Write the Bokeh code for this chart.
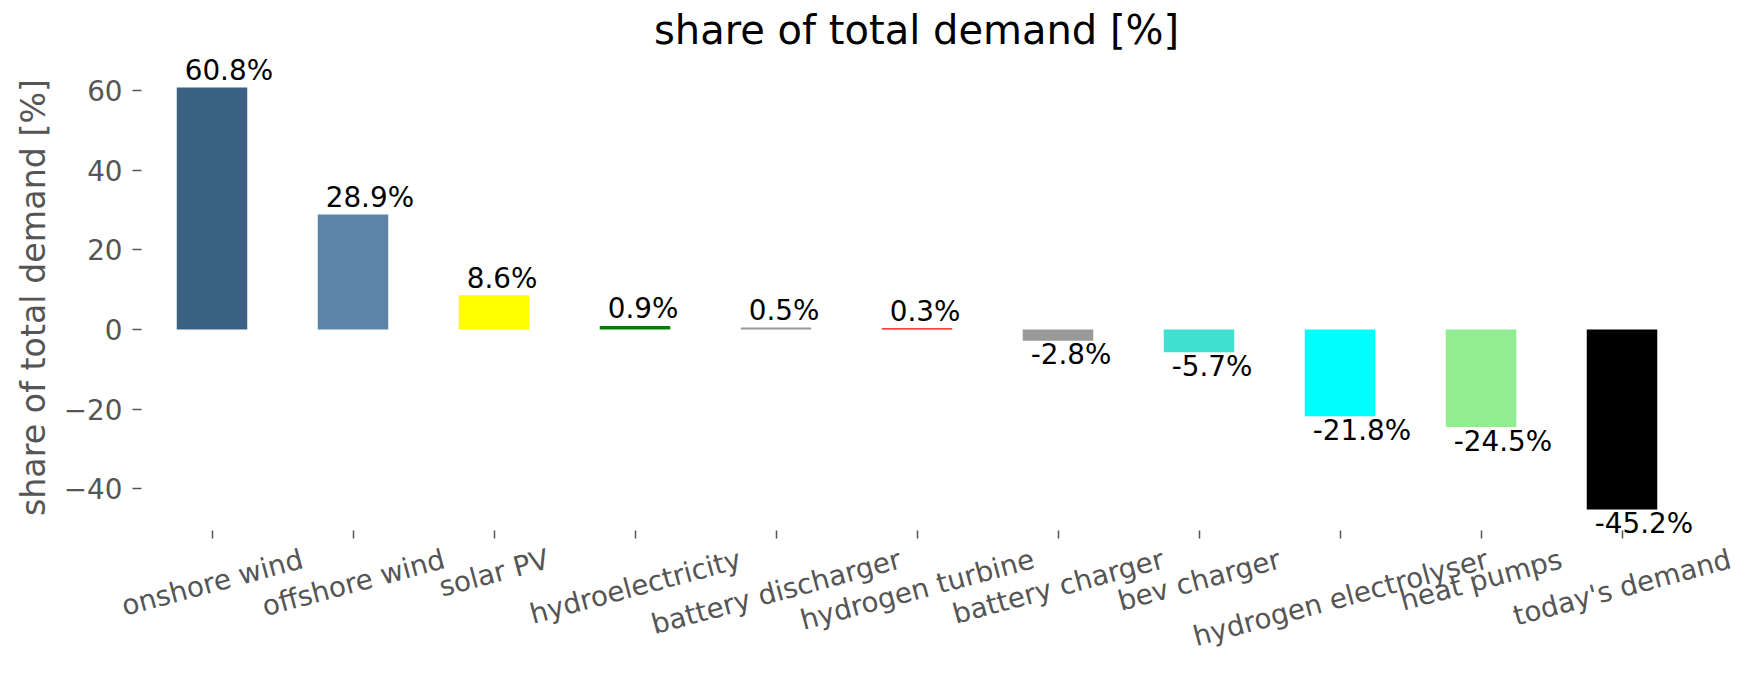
import math
from bokeh.plotting import figure
from bokeh.models import (ColumnDataSource, Label, Range1d, FixedTicker, LinearAxis)
from bokeh.embed import file_html
from bokeh.resources import INLINE

# ---- data ----
categories = ["onshore wind", "offshore wind", "solar PV", "hydroelectricity",
              "battery discharger", "hydrogen turbine", "battery charger",
              "bev charger", "hydrogen electrolyser", "heat pumps", "today's demand"]
shares = [60.8, 28.9, 8.6, 0.9, 0.5, 0.3, -2.8, -5.7, -21.8, -24.5, -45.2]
y_ticks = [-40, -20, 0, 20, 40, 60]
title_text = "share of total demand [%]"
ylabel_text = "share of total demand [%]"

# ---- styles ----
bar_colors = ["#3B6182", "#5B84A6", "#FFFF00", "#008000", "#999999", "#FF0000",
              "#999999", "#40E0D0", "#00FFFF", "#90EE90", "#000000"]
FONT = "DejaVu Sans"
GREY = "#555555"
TICK_FS = 27.8
ANN_FS = 27.8
TITLE_FS = 40
BAR_W = 0.5
AX_W, AX_H = 1551, 464          # matplotlib-like axes box
EXT_TOP, EXT_BOT, EXT_RIGHT = 10, 8, 45   # invisible frame extension (avoid clipping)
TICK_LEN = 8

lo, hi = min(shares), max(shares)
pad = 0.05 * (hi - lo)
n = len(categories)
centers = [i + 0.5 for i in range(n)]   # category slots on the x scale

px_x = AX_W / n
px_y = AX_H / ((hi + pad) - (lo - pad))

p = figure(x_range=Range1d(0, n + EXT_RIGHT / px_x),
           y_range=Range1d(lo - pad - EXT_BOT / px_y, hi + pad + EXT_TOP / px_y),
           frame_width=AX_W + EXT_RIGHT, frame_height=AX_H + EXT_TOP + EXT_BOT,
           min_border_left=141, min_border_right=10,
           min_border_top=66 - EXT_TOP, min_border_bottom=136 - EXT_BOT,
           output_backend="svg", toolbar_location=None,
           title=title_text)

src = ColumnDataSource(dict(x=centers, val=shares, color=bar_colors))
p.vbar(x="x", top="val", bottom=0, width=BAR_W, source=src,
       fill_color="color", line_color=None)

# value labels (start at the bar's left edge, above / below the bar end)
for xc, v in zip(centers, shares):
    p.add_layout(Label(x=xc - BAR_W / 2, y=v, text=f"{v}%",
                       x_offset=8, y_offset=(17 if v >= 0 else -14),
                       text_align="left", text_baseline="alphabetic",
                       text_font=FONT, text_font_size=f"{ANN_FS}px",
                       text_color="black"))

# ---- category labels: rotated 15 deg and centred under each tick ----
# Bokeh anchors rotated axis labels at their right end, so each label's anchor
# is moved right by half of its rotated width (DejaVu Sans advance widths).
W = {" ": 651, "'": 563, "P": 1235, "V": 1401, "a": 1255, "b": 1300, "c": 1126,
     "d": 1300, "e": 1260, "f": 721, "g": 1300, "h": 1298, "i": 569, "l": 569,
     "m": 1995, "n": 1298, "o": 1253, "p": 1300, "r": 842, "s": 1067, "t": 803,
     "u": 1298, "v": 1212, "w": 1675, "y": 1212, "k": 1186, "x": 1212,
     "[": 799, "]": 799, "%": 1946}
ang = math.radians(15)
label_ticks, label_over = [], {}
for xc, c in zip(centers, categories):
    L = sum(W.get(ch, 1250) for ch in c) / 2048 * TICK_FS
    t = round(xc + (L / 2) * math.cos(ang) / px_x, 6)
    label_ticks.append(t)
    label_over[t] = c

lab_axis = LinearAxis(ticker=FixedTicker(ticks=label_ticks),
                      major_label_overrides=label_over,
                      major_label_orientation=ang,
                      major_label_text_font=FONT,
                      major_label_text_font_size=f"{TICK_FS}px",
                      major_label_text_color=GREY,
                      major_label_standoff=20,
                      major_tick_out=0, major_tick_in=0,
                      major_tick_line_color=None,
                      minor_tick_line_color=None,
                      axis_line_color=None)
p.add_layout(lab_axis, "below")

# title, centred over the axes box
title_w = sum(W.get(ch, 1250) for ch in title_text) / 2048 * TITLE_FS
p.title.text_font = FONT
p.title.text_font_size = f"{TITLE_FS}px"
p.title.text_font_style = "normal"
p.title.text_color = "black"
p.title.align = "left"
p.title.offset = AX_W / 2 - title_w / 2
p.title.standoff = 18 - EXT_TOP

# main x axis: tick marks at the category slots only (drawn up to the axes box)
xa = p.xaxis[0]
xa.ticker = FixedTicker(ticks=centers)
xa.major_label_overrides = {xc: "" for xc in centers}
xa.major_label_text_font_size = "1px"
xa.major_label_standoff = 0
xa.major_tick_in = EXT_BOT
xa.major_tick_out = TICK_LEN - EXT_BOT
xa.major_tick_line_color = GREY
xa.major_tick_line_width = 1.5
xa.axis_line_color = None
xa.minor_tick_line_color = None

p.yaxis.ticker = FixedTicker(ticks=y_ticks)
p.yaxis.major_label_overrides = {t: str(t).replace("-", "\u2212") for t in y_ticks}
p.yaxis.major_label_text_font = FONT
p.yaxis.major_label_text_font_size = f"{TICK_FS}px"
p.yaxis.major_label_text_color = GREY
p.yaxis.major_label_standoff = 10
p.yaxis.major_tick_out = 9
p.yaxis.major_tick_in = 0
p.yaxis.major_tick_line_color = GREY
p.yaxis.major_tick_line_width = 1.5
p.yaxis.minor_tick_line_color = None
p.yaxis.axis_line_color = None
p.yaxis.axis_label = ylabel_text
p.yaxis.axis_label_text_font = FONT
p.yaxis.axis_label_text_font_size = "33.3px"
p.yaxis.axis_label_text_font_style = "normal"
p.yaxis.axis_label_text_color = GREY
p.yaxis.axis_label_standoff = 8

p.grid.grid_line_color = None
p.outline_line_color = None
p.background_fill_color = "white"
p.border_fill_color = "white"

open("out.html", "w").write(file_html(p, INLINE))
